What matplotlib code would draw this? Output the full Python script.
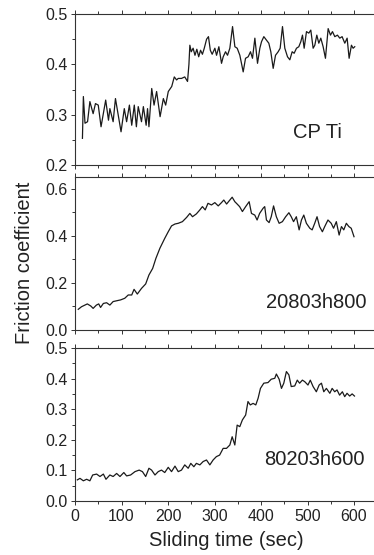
import numpy as np
import matplotlib.pyplot as plt
from matplotlib.ticker import MultipleLocator

plt.rcParams['font.family'] = ['Liberation Sans', 'DejaVu Sans']

# ---- CP Ti ----
t_cpti = [16, 18, 21.5, 27, 32, 39, 44, 50, 56, 66, 72, 75, 82, 87, 99, 106, 111, 117,
          122, 127.5, 132, 136, 143, 147, 153, 156, 159, 165, 170, 175.5, 183, 190, 195,
          200.6, 208, 213.5, 218.5, 222, 229, 236, 242, 245, 247, 250, 254, 258, 262, 266,
          270, 274, 278, 283, 287, 291, 295,
          300.8, 304.4, 309.4, 315.1, 318.7, 323.7, 328.0, 333.0, 338.8, 343.8, 348.8,
          354.5, 361.7, 366.7, 372.4, 377.4, 381.7, 386.8, 392.5, 397.5, 401.1, 406.1,
          411.8, 416.8, 421.1, 426.2, 431.2, 436.9, 441.2, 446.2, 451.2, 457.0, 462.0,
          467.0, 471.3, 476.3, 481.3, 485.6, 489.2, 492.8, 497.8, 502.8, 507.1, 512.1,
          515.7, 520.0, 524.3, 528.6, 533.6, 538.6, 544.4, 549.4, 553.7, 558.7, 564.4,
          569.4, 574.4, 580.2, 585.2, 589.5, 594.5, 598.1, 601.6]
mu_cpti = [0.253, 0.336, 0.283, 0.286, 0.326, 0.302, 0.322, 0.319, 0.276, 0.329, 0.289,
           0.312, 0.286, 0.332, 0.266, 0.312, 0.286, 0.319, 0.279, 0.319, 0.276, 0.316,
           0.286, 0.316, 0.279, 0.312, 0.276, 0.352, 0.319, 0.346, 0.296, 0.332, 0.319,
           0.346, 0.356, 0.375, 0.369, 0.372, 0.372, 0.375, 0.366, 0.400, 0.438, 0.425,
           0.432, 0.418, 0.430, 0.415, 0.428, 0.420, 0.432, 0.450, 0.455, 0.428, 0.420,
           0.432, 0.418, 0.435, 0.402, 0.415, 0.425, 0.418, 0.432, 0.475, 0.435, 0.432,
           0.418, 0.385, 0.412, 0.415, 0.425, 0.412, 0.452, 0.402, 0.432, 0.445, 0.455,
           0.448, 0.442, 0.425, 0.392, 0.418, 0.425, 0.432, 0.475, 0.432, 0.415, 0.409,
           0.425, 0.422, 0.432, 0.435, 0.445, 0.458, 0.432, 0.465, 0.462, 0.468, 0.432,
           0.438, 0.458, 0.442, 0.452, 0.435, 0.412, 0.471, 0.458, 0.465, 0.455, 0.458,
           0.452, 0.455, 0.442, 0.452, 0.412, 0.438, 0.432, 0.435]

# ---- 20803h800 ----
t_208 = [7, 14, 26.5, 34, 39, 46, 51, 55, 61, 68, 75, 82, 91, 98, 107, 114.5, 122, 127,
         134, 143, 152, 159, 167, 174, 182.6, 193, 200.5, 207.6, 215, 222, 231, 240, 247,
         252.7, 261, 268.5, 274, 280, 286, 293.5, 300.7, 308, 315, 320, 326, 333, 338,
         343.7, 348.7, 354, 360, 367, 374.5, 379.5, 386.6, 391.6, 397, 404.5, 408, 411.7,
         417.4, 422, 427, 433, 439, 446, 453, 460, 465, 470, 476, 482, 487, 492, 497.6,
         505, 510, 515.5, 520.5, 526, 532, 537, 544, 551, 556, 562, 568, 573, 578, 583.5,
         589, 594, 600]
mu_208 = [0.088, 0.099, 0.111, 0.102, 0.092, 0.106, 0.111, 0.096, 0.113, 0.116, 0.106,
          0.121, 0.125, 0.128, 0.135, 0.149, 0.149, 0.173, 0.153, 0.177, 0.196, 0.234,
          0.262, 0.305, 0.348, 0.390, 0.418, 0.443, 0.451, 0.454, 0.461, 0.479, 0.496,
          0.482, 0.494, 0.511, 0.525, 0.511, 0.539, 0.532, 0.542, 0.528, 0.542, 0.553,
          0.536, 0.553, 0.565, 0.546, 0.536, 0.525, 0.504, 0.525, 0.546, 0.496, 0.489,
          0.468, 0.496, 0.518, 0.525, 0.468, 0.457, 0.482, 0.528, 0.482, 0.454, 0.461,
          0.482, 0.499, 0.482, 0.461, 0.482, 0.426, 0.468, 0.489, 0.454, 0.433, 0.426,
          0.454, 0.482, 0.440, 0.418, 0.440, 0.468, 0.454, 0.433, 0.461, 0.404, 0.440,
          0.426, 0.454, 0.440, 0.433, 0.397]

# ---- 80203h600 ----
t_802 = [5, 10.7, 18, 25, 32, 38, 46.5, 53.7, 61, 66.6, 75, 82, 89.5, 96.7, 105, 111,
         119.6, 129, 138, 145, 152, 159, 164.7, 172, 179, 186, 193, 200.5, 207.6, 215,
         222, 229, 236, 243.4, 249, 255.6, 261, 268.5, 275.6, 282.8, 290, 297, 304, 311,
         318.6, 325.8, 333, 338, 343.7, 348.7, 354.4, 360, 367, 372, 377, 383, 388.8,
         393.8, 398.8, 406, 415, 422, 429.6, 433, 439, 444, 449, 454.6, 460, 465, 472.5,
         478, 483, 489, 494, 501, 506, 512, 519, 525, 530, 535, 540.6, 548, 553, 558.5,
         563.5, 569, 575, 580, 585, 590.7, 596, 601]
mu_802 = [0.069, 0.074, 0.066, 0.071, 0.066, 0.085, 0.088, 0.080, 0.088, 0.071, 0.085,
          0.080, 0.090, 0.080, 0.093, 0.082, 0.085, 0.096, 0.101, 0.096, 0.080, 0.107,
          0.101, 0.085, 0.096, 0.101, 0.093, 0.110, 0.096, 0.114, 0.096, 0.101, 0.118,
          0.107, 0.123, 0.112, 0.123, 0.118, 0.129, 0.134, 0.118, 0.134, 0.145, 0.150,
          0.172, 0.172, 0.183, 0.210, 0.183, 0.248, 0.243, 0.265, 0.281, 0.325, 0.314,
          0.319, 0.314, 0.336, 0.368, 0.385, 0.387, 0.398, 0.401, 0.415, 0.398, 0.368,
          0.385, 0.423, 0.412, 0.374, 0.376, 0.395, 0.385, 0.395, 0.390, 0.379, 0.395,
          0.374, 0.357, 0.379, 0.385, 0.357, 0.368, 0.352, 0.368, 0.357, 0.363, 0.346,
          0.357, 0.341, 0.352, 0.343, 0.350, 0.343]

labels = ['CP Ti', '20803h800', '80203h600']
ylims = [(0.2, 0.5), (0.0, 0.651), (0.0, 0.5)]
ymajor = [0.1, 0.2, 0.1]
yminor = [0.05, 0.1, 0.05]
label_pos = [(522, 0.265), (518, 0.115), (514, 0.134)]
series = [(t_cpti, mu_cpti), (t_208, mu_208), (t_802, mu_802)]

ink = '#222222'
W, H = 374, 555
fig = plt.figure(figsize=(W / 100, H / 100), dpi=100)

# axes boxes in pixels: (top, bottom)
boxes = [(14, 165), (177, 330), (348, 501)]
left_px = 75

for i, (top, bot) in enumerate(boxes):
    ax = fig.add_axes([left_px / W, 1 - bot / H, 1 - left_px / W, (bot - top) / H])
    t, mu = series[i]
    ax.plot(t, mu, color='#1a1a1a', lw=0.9)
    ax.set_xlim(0, 643)
    ax.set_ylim(*ylims[i])
    ax.xaxis.set_major_locator(MultipleLocator(100))
    ax.xaxis.set_minor_locator(MultipleLocator(50))
    ax.yaxis.set_major_locator(MultipleLocator(ymajor[i]))
    ax.yaxis.set_minor_locator(MultipleLocator(yminor[i]))
    ax.spines['right'].set_visible(False)
    for s in ['left', 'top', 'bottom']:
        ax.spines[s].set_color('#333333')
        ax.spines[s].set_linewidth(0.8)
    ax.tick_params(axis='both', which='both', direction='out', colors='#333333',
                   labelcolor=ink, labelsize=11.5, top=True, right=False, width=0.7,
                   pad=2.5)
    ax.tick_params(which='major', length=3)
    ax.tick_params(which='minor', length=2)
    ax.yaxis.set_major_formatter(plt.FuncFormatter(lambda v, p: f'{v:.1f}'))
    if i < 2:
        ax.tick_params(axis='x', labelbottom=False)
    ax.text(label_pos[i][0], label_pos[i][1], labels[i], fontsize=14.5, color=ink,
            ha='center', va='center')

fig.text(226 / W, 1 - 541 / H, 'Sliding time (sec)', fontsize=14.5, color=ink,
         ha='center', va='center')
fig.text(24 / W, 1 - 263 / H, 'Friction coefficient', fontsize=14.5, color=ink,
         ha='center', va='center', rotation=90)

fig.savefig('out.png', dpi=100)
